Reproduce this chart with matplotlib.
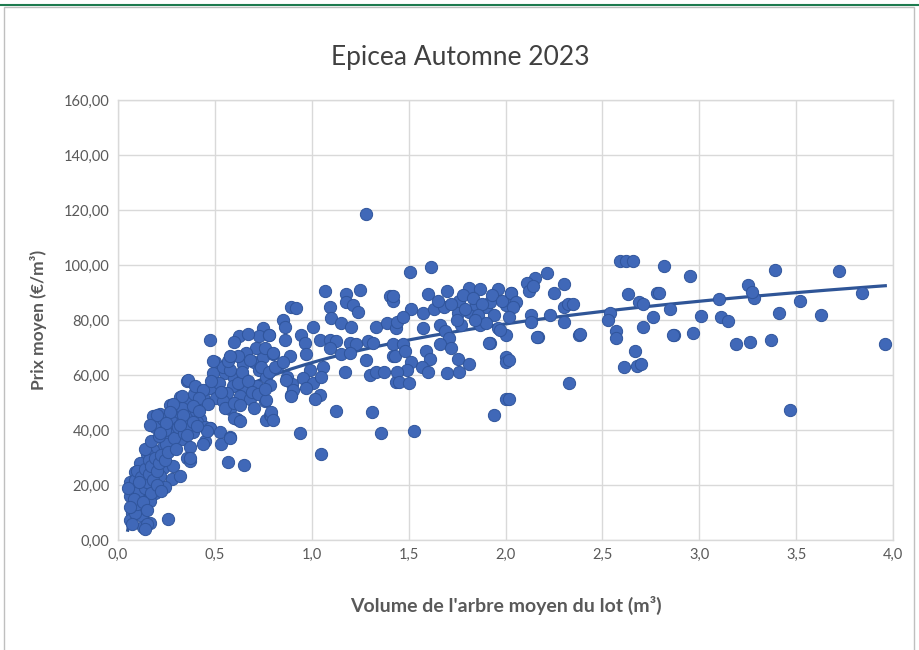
import matplotlib
matplotlib.use("Agg")
import matplotlib.pyplot as plt
import numpy as np
from matplotlib.patches import Rectangle
from matplotlib.ticker import FuncFormatter, MultipleLocator

# Lots d'épicéa, automne 2023 : volume de l'arbre moyen (m3) et prix moyen (EUR/m3)
vol_petits = [0.354, 0.423, 0.474, 0.32, 0.268, 0.182, 0.216, 0.30, 0.37, 0.423,
              0.474, 0.251, 0.32, 0.388, 0.448, 0.26, 0.328, 0.37, 0.234, 0.182,
              0.148, 0.354, 0.37, 0.113, 0.182, 0.234, 0.285, 0.088, 0.148, 0.216,
              0.277, 0.32, 0.062, 0.122, 0.182, 0.242, 0.07, 0.13, 0.19, 0.062,
              0.113, 0.165, 0.079, 0.13, 0.07, 0.122, 0.062, 0.26, 0.165, 0.13,
              0.08, 0.09, 0.10, 0.10, 0.11, 0.12, 0.14, 0.14, 0.15, 0.16,
              0.16, 0.17, 0.17, 0.18, 0.19, 0.20, 0.20, 0.21, 0.22, 0.22,
              0.24, 0.25, 0.26, 0.27, 0.28, 0.29, 0.30, 0.31, 0.33, 0.34,
              0.35, 0.36, 0.38, 0.40, 0.41, 0.43, 0.44, 0.45, 0.09, 0.10,
              0.08, 0.11, 0.13, 0.15, 0.06, 0.05, 0.14, 0.17, 0.19, 0.21,
              0.23, 0.24, 0.36, 0.39, 0.33, 0.15, 0.07, 0.14]
prix_petits = [57.9, 54.3, 55.4, 52.0, 49.1, 45.1, 45.7, 45.1, 45.7, 44.0,
               40.6, 41.7, 40.6, 39.4, 36.0, 37.1, 36.6, 33.7, 33.7, 32.6,
               31.4, 29.7, 28.6, 28.0, 27.4, 26.3, 26.9, 24.6, 24.6, 23.4,
               22.3, 23.4, 21.1, 21.1, 20.6, 19.4, 18.9, 17.7, 17.1, 16.0,
               14.9, 14.3, 12.0, 12.0, 9.7, 8.6, 7.4, 7.7, 6.3, 4.6,
               19.0, 22.0, 25.0, 15.0, 18.0, 23.0, 26.0, 19.0, 21.0, 29.0,
               24.0, 17.0, 27.0, 22.0, 30.0, 25.0, 20.0, 28.0, 31.0, 18.0,
               29.0, 35.0, 32.0, 40.0, 43.0, 37.0, 33.0, 41.0, 43.0, 39.0,
               47.0, 42.0, 45.0, 47.0, 43.0, 49.0, 52.0, 41.0, 10.0, 13.0,
               15.0, 21.0, 14.0, 11.0, 12.0, 19.0, 33.0, 36.0, 41.0, 38.0,
               44.0, 40.0, 50.0, 53.0, 48.0, 6.0, 6.0, 4.0]

vol_moyens = [0.474, 0.625, 0.75, 0.73, 0.777, 0.577, 0.50, 0.646, 0.70, 0.75,
              0.80, 0.49, 0.551, 0.60, 0.646, 0.73, 0.766, 0.362, 0.397, 0.44,
              0.594, 0.66, 0.715, 0.784, 0.328, 0.42, 0.508, 0.56, 0.629, 0.68,
              0.758, 0.285, 0.388, 0.465, 0.542, 0.577, 0.199, 0.268, 0.337, 0.42,
              0.612, 0.766, 0.784, 0.165, 0.25, 0.32, 0.388, 0.474, 0.525, 0.577,
              0.216, 0.354, 0.52, 0.54, 0.58, 0.62, 0.64, 0.67, 0.69, 0.72,
              0.74, 0.78, 0.82, 0.55, 0.60, 0.63, 0.70, 0.48, 0.53, 0.57,
              0.60, 0.67, 0.71, 0.76, 0.66, 0.62, 0.87, 0.90, 0.895, 0.766,
              0.758, 0.792, 0.49, 0.577, 0.68, 0.57, 0.65, 0.53, 0.58, 0.44,
              0.37, 0.46, 0.41, 0.60, 0.63]
prix_moyens = [72.9, 74.1, 77.1, 74.1, 74.7, 66.5, 64.7, 64.1, 64.7, 66.5,
               67.6, 60.6, 60.6, 58.8, 59.4, 61.8, 59.4, 58.2, 55.9, 54.7,
               55.9, 55.3, 55.9, 56.5, 52.4, 51.8, 51.8, 53.5, 52.4, 51.2,
               50.6, 49.4, 48.8, 49.4, 50.6, 47.6, 45.3, 46.5, 45.3, 47.1,
               44.1, 43.5, 45.3, 41.8, 42.4, 41.8, 42.9, 40.6, 39.4, 37.6,
               38.8, 38.2, 57.0, 63.0, 62.0, 57.0, 61.0, 58.0, 54.0, 53.0,
               63.0, 61.0, 63.0, 48.0, 50.0, 49.0, 48.0, 58.0, 54.0, 65.0,
               72.0, 75.0, 70.0, 70.0, 68.0, 67.0, 59.2, 56.8, 52.7, 50.9,
               55.0, 45.0, 65.0, 66.8, 65.6, 28.4, 27.3, 35.0, 37.2, 35.0,
               29.8, 39.8, 41.5, 44.5, 43.3]

vol_gros = [1.067, 1.179, 1.247, 0.895, 0.92, 1.093, 1.179, 1.213, 1.238, 1.402,
            1.42, 0.852, 0.86, 1.007, 1.10, 1.15, 1.20, 1.33, 1.39, 1.436,
            0.78, 0.86, 0.946, 0.963, 1.041, 1.093, 1.127, 1.196, 1.23, 1.29,
            1.316, 0.80, 0.886, 0.971, 1.093, 1.15, 1.196, 1.28, 1.42, 0.81,
            0.85, 0.989, 1.058, 1.17, 1.299, 1.33, 1.375, 1.436, 0.869, 0.955,
            1.007, 1.05, 0.903, 0.972, 1.041, 1.015, 0.895, 0.792, 0.80, 1.127,
            1.31, 0.938, 1.359, 1.05, 1.28,
            1.509, 1.617, 1.60, 1.70, 1.81, 1.87, 1.96, 2.03, 1.51, 1.42,
            1.574, 1.63, 1.68, 1.76, 1.81, 1.85, 1.90, 1.92, 2.00, 1.755,
            1.44, 1.47, 1.574, 1.66, 1.69, 1.71, 1.77, 1.87, 1.96, 2.00,
            1.92, 1.42, 1.47, 1.43, 1.48, 1.59, 1.66, 1.72, 1.755, 1.81,
            1.61, 1.51, 1.49, 1.44, 1.45, 1.50, 1.57, 1.60, 1.70, 1.76,
            2.00, 2.00, 2.00, 1.94, 1.525,
            1.78, 1.83, 1.88, 1.93, 1.98, 1.72, 1.65, 1.79, 1.86, 1.94,
            1.90, 1.84, 1.75]
prix_gros = [90.6, 89.4, 90.9, 84.7, 84.4, 84.7, 86.5, 85.3, 82.9, 88.8,
             87.1, 80.0, 77.6, 77.6, 80.6, 78.8, 77.6, 77.6, 78.8, 77.1,
             74.7, 72.9, 74.7, 71.8, 72.9, 72.9, 72.4, 71.8, 71.2, 72.4,
             71.8, 68.2, 67.1, 67.6, 70.0, 67.6, 68.2, 65.3, 67.1, 62.9,
             64.7, 61.8, 62.9, 61.2, 60.0, 61.2, 61.2, 57.6, 58.2, 58.8,
             57.1, 59.4, 54.7, 55.3, 52.9, 51.2, 52.4, 46.5, 43.5, 47.1,
             46.5, 38.8, 38.8, 31.2, 118.5,
             97.6, 99.2, 89.4, 90.6, 91.8, 91.2, 91.2, 90.0, 84.1, 88.8,
             82.4, 84.1, 84.7, 87.1, 82.9, 85.3, 84.7, 86.5, 85.3, 82.4,
             79.4, 81.2, 77.1, 78.2, 75.9, 73.5, 78.2, 78.2, 77.1, 74.7,
             71.8, 71.2, 71.2, 67.1, 68.8, 68.8, 71.2, 70.0, 65.9, 64.1,
             65.9, 64.7, 61.8, 61.2, 57.6, 57.1, 62.9, 61.2, 60.6, 61.2,
             66.5, 64.7, 51.2, 45.5, 39.6,
             89.0, 88.0, 86.0, 89.0, 87.0, 86.0, 87.0, 84.0, 82.0, 82.0,
             79.0, 80.0, 80.0]

vol_tres_gros = [2.213, 2.15, 2.11, 2.12, 2.14, 2.03, 2.055, 2.04, 2.02, 2.25,
                 2.30, 2.30, 2.32, 2.35, 2.23, 2.13, 2.13, 2.30, 2.17, 2.38,
                 2.33, 2.02, 2.02, 2.59, 2.62, 2.66, 2.63, 2.69, 2.71, 2.78,
                 2.76, 2.54, 2.53, 2.71, 2.57, 2.57, 2.666, 2.61, 2.68, 2.70,
                 2.82, 2.95, 2.79, 2.85, 2.87, 2.97, 3.01, 3.10, 3.11, 3.15,
                 3.19, 3.25, 3.26, 3.28, 3.27, 3.37, 3.39, 3.41, 3.47, 3.52,
                 3.63, 3.72, 3.84, 3.96, 2.862, 2.385, 2.161, 1.97, 1.917]
prix_tres_gros = [97.1, 95.3, 93.5, 90.6, 92.4, 90.0, 86.5, 84.7, 81.2, 89.8,
                  93.0, 84.7, 85.9, 85.9, 81.8, 81.8, 79.4, 79.2, 73.9, 74.7,
                  57.1, 65.3, 51.2, 101.5, 101.5, 101.5, 89.4, 86.5, 85.9, 90.0,
                  81.2, 82.4, 80.0, 77.3, 75.9, 73.5, 68.6, 62.9, 63.2, 63.9,
                  99.6, 96.2, 90.0, 83.9, 74.7, 75.3, 81.3, 87.5, 81.1, 79.8,
                  71.2, 92.7, 72.2, 88.1, 90.1, 72.9, 98.3, 82.4, 47.2, 86.8,
                  81.9, 97.9, 89.7, 71.4, 74.7, 74.9, 73.8, 76.5, 71.8]

volume = np.array(vol_petits + vol_moyens + vol_gros + vol_tres_gros)
prix = np.array(prix_petits + prix_moyens + prix_gros + prix_tres_gros)

BLEU = "#4068b8"
BLEU_FONCE = "#30559c"
GRIS_TEXTE = "#595959"
GRIS_GRILLE = "#d9d9d9"

plt.rcParams["font.family"] = ["Lato", "DejaVu Sans"]

fig = plt.figure(figsize=(9.2, 6.5), dpi=100)
ax = fig.add_axes([0.1283, 0.1692, 0.8424, 0.6768])

# cadre autour du graphique
fig.add_artist(Rectangle((0.004, -0.01), 0.99, 1.0, transform=fig.transFigure,
                         fill=False, edgecolor="#bfbfbf", linewidth=1.0))
fig.add_artist(plt.Line2D([0, 1], [0.992, 0.992], transform=fig.transFigure,
                          color="#1e7b4f", linewidth=1.5))

ax.scatter(volume, prix, s=78, color=BLEU, edgecolors=BLEU_FONCE,
           linewidths=0.7, zorder=3)

# courbe de tendance logarithmique, sous les points
a, b = np.polyfit(np.log(volume), prix, 1)
xt = np.linspace(volume.min(), volume.max(), 300)
ax.plot(xt, a * np.log(xt) + b, color="#2f5597", linewidth=2.3, zorder=2)

ax.set_xlim(0, 4)
ax.set_ylim(0, 160)
ax.xaxis.set_major_locator(MultipleLocator(0.5))
ax.yaxis.set_major_locator(MultipleLocator(20))
ax.xaxis.set_major_formatter(FuncFormatter(lambda v, p: f"{v:.1f}".replace(".", ",")))
ax.yaxis.set_major_formatter(FuncFormatter(lambda v, p: f"{v:.2f}".replace(".", ",")))
ax.grid(True, color=GRIS_GRILLE, linewidth=1.0, zorder=0)
ax.set_axisbelow(True)
for s in ax.spines.values():
    s.set_color(GRIS_GRILLE)
    s.set_linewidth(1.0)
ax.tick_params(length=0, labelsize=10.5, colors=GRIS_TEXTE, pad=6)

# titre centré sur toute la zone du graphique
fig.text(0.5, 0.912, "Epicea Automne 2023", fontsize=19, color="#404040",
         ha="center", va="center")
ax.set_xlabel("Volume de l'arbre moyen du lot (m³)", fontsize=14,
              fontweight="bold", color=GRIS_TEXTE, labelpad=24)
ax.set_ylabel("Prix moyen (€/m³)", fontsize=12.5, fontweight="bold",
              color=GRIS_TEXTE, labelpad=12)

fig.savefig("out.png", dpi=100, facecolor="white")
